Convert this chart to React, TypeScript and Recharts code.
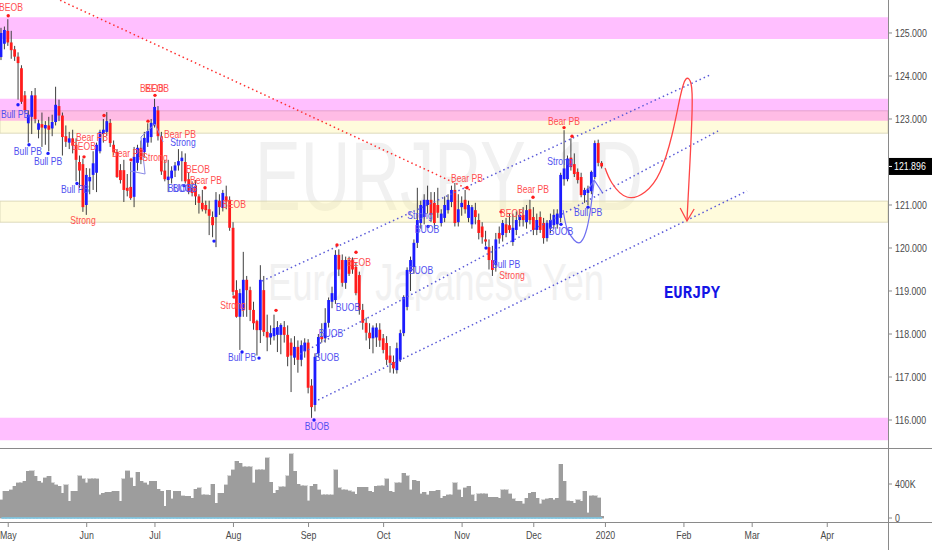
import React from 'react';
import { ComposedChart, Bar, Line, Scatter, XAxis, YAxis, ReferenceArea, ReferenceLine } from 'recharts';

// ---------- DATA (daily bars, index 0 = 29 Apr 2019 ... 176 = 31 Dec 2019) ----------
const opens = [
  124.44, 124.75, 125.05, 124.78, 124.62, 124.45, 124.18, 123.55, 122.90, 123.05,
  123.55, 122.75, 122.88, 122.78, 122.85, 122.78, 122.93, 123.30, 123.08, 122.60,
  122.45, 122.55, 122.40, 122.00, 121.95, 121.00, 121.55, 121.70, 121.75, 122.25,
  122.65, 122.70, 122.91, 122.40, 122.23, 121.81, 121.81, 121.40, 121.42, 121.19,
  121.98, 122.33, 122.23, 122.45, 122.58, 122.86, 123.20, 122.60, 121.80, 121.58,
  121.62, 121.80, 121.92, 122.02, 122.00, 121.60, 121.40, 121.45, 121.20, 121.05,
  121.00, 120.90, 120.72, 120.72, 121.10, 120.93, 121.20, 121.12, 120.47, 119.02,
  118.40, 118.56, 119.26, 119.02, 118.56, 118.30, 118.09, 119.02, 118.05, 117.92,
  117.95, 117.98, 117.98, 118.16, 117.98, 117.80, 117.45, 117.70, 117.40, 117.60,
  117.80, 116.80, 116.35, 117.55, 117.95, 117.90, 118.26, 118.75, 118.79, 119.84,
  119.72, 119.19, 119.72, 119.72, 119.56, 119.37, 118.56, 118.26, 118.03, 117.90,
  117.92, 118.10, 117.90, 117.79, 117.50, 117.35, 117.16, 117.40, 118.02, 118.63,
  119.45, 119.56, 120.12, 120.58, 120.72, 121.00, 121.12, 121.05, 121.00, 120.58,
  120.70, 120.88, 121.07, 121.35, 120.60, 120.95, 121.12, 120.70, 120.55, 120.88,
  120.65, 120.50, 120.20, 120.02, 119.72, 119.60, 120.35, 120.30, 120.55, 120.53,
  120.14, 120.42, 120.65, 120.77, 120.60, 120.90, 120.72, 120.42, 120.72, 120.58,
  120.23, 120.45, 120.53, 120.55, 120.70, 121.60, 121.60, 122.10, 121.95, 121.77,
  121.65, 121.23, 121.28, 121.32, 121.65, 122.44, 121.98,
];
const highs = [
  125.12, 125.15, 125.32, 125.05, 124.70, 124.55, 124.25, 123.65, 123.20, 123.65,
  123.72, 122.98, 123.15, 122.95, 123.05, 123.10, 123.75, 123.45, 123.15, 122.85,
  122.70, 122.75, 122.55, 122.15, 122.08, 121.86, 121.85, 122.25, 122.45, 122.75,
  123.00, 123.16, 123.00, 122.50, 122.30, 121.95, 122.05, 121.72, 122.00, 122.35,
  122.40, 122.50, 122.70, 122.90, 123.00, 123.47, 123.30, 122.70, 122.05, 122.05,
  121.90, 122.00, 122.30, 122.25, 122.20, 121.75, 121.55, 121.58, 121.25, 121.35,
  121.10, 121.10, 120.85, 121.30, 121.25, 121.35, 121.45, 121.20, 120.60, 119.25,
  119.05, 119.91, 119.35, 119.10, 118.75, 118.33, 119.60, 119.35, 118.45, 118.20,
  118.45, 118.30, 118.25, 118.30, 118.20, 117.90, 117.95, 117.85, 117.85, 117.90,
  117.88, 116.95, 117.55, 118.00, 118.25, 118.60, 118.85, 119.10, 119.95, 119.97,
  119.85, 119.80, 119.80, 119.78, 119.65, 119.45, 118.70, 118.38, 118.25, 118.20,
  118.25, 118.25, 118.00, 117.95, 117.72, 117.50, 117.80, 118.10, 118.90, 119.55,
  119.80, 120.20, 121.40, 121.10, 121.25, 121.45, 121.30, 121.30, 121.40, 120.90,
  121.20, 121.25, 121.45, 121.51, 121.25, 121.20, 121.35, 121.10, 121.00, 121.05,
  120.80, 120.60, 120.40, 120.20, 120.05, 120.35, 120.50, 120.65, 120.70, 120.80,
  120.80, 120.85, 120.90, 120.95, 121.00, 121.12, 120.95, 120.80, 120.85, 120.70,
  120.65, 120.80, 120.90, 120.90, 121.75, 122.74, 122.15, 122.55, 122.20, 121.85,
  121.75, 121.40, 121.45, 121.80, 122.50, 122.52, 122.02,
];
const lows = [
  124.37, 124.62, 124.70, 124.40, 124.35, 123.45, 123.35, 123.15, 122.45, 122.65,
  122.90, 122.55, 122.35, 122.40, 122.25, 122.60, 122.85, 122.95, 122.15, 122.35,
  122.30, 122.20, 121.55, 121.40, 120.84, 120.77, 121.25, 121.35, 121.30, 122.20,
  122.45, 122.60, 122.35, 122.15, 121.63, 121.50, 121.07, 121.20, 121.12, 120.95,
  121.80, 121.95, 122.10, 122.35, 122.45, 122.80, 122.50, 121.70, 121.55, 121.30,
  121.50, 121.65, 121.80, 121.55, 121.50, 121.25, 121.20, 121.00, 120.80, 120.85,
  120.80, 120.30, 120.25, 120.02, 120.77, 120.85, 120.90, 120.40, 118.90, 118.38,
  117.63, 118.40, 118.40, 118.30, 118.10, 117.50, 117.79, 117.95, 117.60, 117.75,
  117.85, 117.58, 117.53, 117.80, 117.25, 116.65, 117.28, 117.10, 117.25, 117.45,
  116.62, 116.05, 116.20, 117.45, 117.80, 117.80, 118.15, 118.60, 118.70, 119.35,
  119.10, 119.05, 119.35, 119.40, 118.90, 118.45, 118.10, 117.85, 117.65, 117.55,
  117.70, 117.70, 117.55, 117.28, 117.10, 117.08, 117.08, 117.35, 117.95, 118.55,
  119.00, 119.40, 120.00, 120.45, 120.55, 120.80, 120.60, 120.45, 120.70, 120.50,
  120.60, 120.80, 120.95, 120.50, 120.50, 120.75, 120.80, 120.60, 120.45, 120.55,
  120.20, 120.10, 120.05, 119.50, 119.35, 119.45, 120.10, 120.15, 120.25, 120.35,
  120.05, 120.30, 120.50, 120.50, 120.45, 120.55, 120.30, 120.30, 120.35, 120.10,
  120.15, 120.35, 120.45, 120.45, 120.60, 121.45, 121.55, 121.80, 121.65, 121.50,
  121.18, 121.05, 121.00, 121.25, 121.60, 121.90, 121.85,
];
const closes = [
  125.00, 125.07, 124.78, 124.60, 124.45, 124.30, 123.40, 123.20, 123.10, 123.55,
  123.00, 122.90, 122.80, 122.86, 122.75, 122.93, 123.33, 123.08, 122.58, 122.47,
  122.55, 122.38, 122.05, 121.80, 120.95, 121.70, 121.65, 121.97, 122.40, 122.70,
  122.75, 122.95, 122.44, 122.23, 121.65, 121.58, 121.35, 121.33, 121.16, 122.12,
  122.33, 122.05, 122.56, 122.72, 122.91, 123.28, 122.60, 121.78, 121.60, 121.66,
  121.80, 121.92, 122.02, 122.10, 121.55, 121.30, 121.28, 121.20, 121.05, 120.90,
  120.88, 120.75, 120.53, 121.12, 120.95, 121.28, 121.08, 120.47, 118.98, 118.40,
  118.95, 119.26, 119.02, 118.56, 118.25, 118.09, 119.26, 118.05, 117.92, 118.02,
  118.14, 118.16, 118.21, 117.98, 117.47, 117.50, 117.70, 117.40, 117.74, 117.80,
  116.75, 116.30, 117.47, 117.93, 117.88, 118.26, 118.79, 118.95, 119.84, 119.50,
  119.19, 119.72, 119.40, 119.50, 118.95, 118.56, 118.26, 118.03, 117.90, 118.15,
  118.15, 117.85, 117.63, 117.40, 117.33, 117.20, 117.67, 118.02, 118.86, 119.49,
  119.72, 120.12, 120.65, 121.00, 121.12, 121.12, 120.77, 120.58, 120.82, 120.80,
  121.00, 121.12, 121.35, 120.58, 120.90, 121.05, 120.90, 121.00, 120.95, 120.72,
  120.35, 120.25, 120.15, 119.72, 119.49, 120.20, 120.22, 120.58, 120.35, 120.42,
  120.47, 120.65, 120.77, 120.65, 120.88, 120.65, 120.42, 120.65, 120.42, 120.23,
  120.58, 120.65, 120.77, 120.80, 121.70, 121.85, 122.08, 121.88, 121.72, 121.58,
  121.23, 121.35, 121.38, 121.77, 122.44, 121.98, 121.896,
];
// volume in thousands
const volumes = [
  216, 314, 314, 333, 373, 412, 412, 431, 549, 557,
  490, 431, 412, 471, 490, 412, 392, 373, 294, 392,
  196, 314, 314, 498, 459, 412, 459, 459, 459, 275,
  294, 302, 302, 314, 314, 196, 459, 557, 471, 373,
  541, 431, 412, 392, 431, 431, 341, 314, 137, 325,
  224, 314, 314, 263, 255, 255, 235, 341, 353, 275,
  275, 267, 400, 176, 294, 294, 392, 498, 569, 667,
  647, 600, 600, 600, 412, 569, 569, 569, 706, 420,
  294, 325, 365, 365, 498, 757, 549, 400, 380, 380,
  204, 373, 400, 333, 275, 275, 275, 275, 569, 353,
  333, 333, 322, 306, 282, 361, 361, 361, 314, 302,
  373, 380, 380, 459, 314, 302, 412, 412, 529, 498,
  333, 443, 431, 286, 302, 275, 314, 314, 325, 235,
  255, 275, 275, 412, 333, 247, 353, 373, 275, 196,
  286, 286, 286, 247, 247, 247, 235, 333, 333, 286,
  224, 196, 196, 165, 235, 294, 302, 231, 165, 216,
  224, 231, 216, 231, 635, 431, 204, 196, 176, 216,
  196, 314, 59, 263, 263, 240, 20,
];

const monthTickIdx = [2, 25, 45, 68, 90, 112, 135, 156, 177, 200, 220, 242];
const monthTickLabels = ['May', 'Jun', 'Jul', 'Aug', 'Sep', 'Oct', 'Nov', 'Dec', '2020', 'Feb', 'Mar', 'Apr'];
const priceTicks = [116, 117, 118, 119, 120, 121, 122, 123, 124, 125];
const volumeTicks = [0, 400];

// zones [bottom, top]
const pinkZones = [[124.86, 125.365], [122.96, 123.47], [115.53, 116.05]];
const yellowZones = [[122.67, 123.19], [120.6, 121.09]];

// trend lines [[idx, price], [idx, price]]
const channelUpper = [[76.4, 119.233], [207.6, 124.023]];
const channelMiddle = [[87.5, 117.535], [210.0, 122.721]];
const channelLower = [[92.8, 116.465], [218.5, 121.326]];
const redTrend = [[17.2, 125.76], [137.3, 121.349]];

// hand drawings
const redCurveIdx = [176.9, 178.9, 183.3, 188.6, 193.0, 196.5, 198.9, 200.6, 202.1, 202.4, 201.8, 200.9];
const redCurvePrice = [121.86, 121.512, 121.186, 121.302, 121.767, 122.628, 123.512, 123.93, 123.814, 123.209, 122.047, 120.651];
const redArrowIdx = [198.9, 200.9, 203.0];
const redArrowPrice = [120.93, 120.628, 120.907];
const blueCurveIdx = [164.6, 165.7, 167.8, 169.8, 171.6, 172.8, 173.7];
const blueCurvePrice = [120.884, 120.465, 120.186, 120.14, 120.465, 121.0, 121.558];
const blueArrowIdx = [171.9, 173.7, 176.0];
const blueArrowPrice = [121.349, 121.581, 121.302];
const zigzagIdx = [37.7, 42.1, 40.9, 45.0, 47.4];
const zigzagPrice = [121.791, 121.721, 122.581, 122.884, 122.465];

// signal labels
const labelIdx = [2.8, 3.99, 7.79, 13.66, 21.57, 23.91, 26.55, 24.21, 37.1, 45.01, 44.13, 45.6, 52.34, 53.22, 57.61, 59.96, 52.34, 53.8, 68.16, 67.87, 70.51, 92.49, 95.41, 96.59, 101.57, 104.79, 122.67, 124.72, 122.96, 136.44, 149.63, 155.78, 147.87, 149.63, 163.98, 164.87, 163.7, 171.9];
const labelPrice = [125.581, 123.093, 122.233, 122.0, 121.349, 120.628, 122.558, 122.349, 122.209, 122.093, 123.698, 123.698, 122.628, 122.442, 121.814, 121.558, 121.372, 121.372, 121.023, 118.674, 117.442, 115.86, 117.465, 118.023, 118.605, 119.674, 120.767, 120.419, 119.488, 121.605, 120.791, 121.349, 119.605, 119.349, 120.395, 122.953, 122.023, 120.814];
const labelText = ['BEOB', 'Bull PB', 'Bull PB', 'Bull PB', 'Bull PB', 'Strong', 'Bear PB', 'BEOB', 'Bear PB', 'Strong', 'BEOB', 'BEOB', 'Bear PB', 'Strong', 'BEOB', 'Bear PB', 'BUOB', 'BUOB', 'BEOB', 'Strong', 'Bull PB', 'BUOB', 'BUOB', 'BUOB', 'BUOB', 'BEOB', 'Strong', 'BUOB', 'BUOB', 'Bear PB', 'BEOB', 'Bear PB', 'Bull PB', 'Strong', 'BUOB', 'Bear PB', 'Strong', 'Bull PB'];
const labelSide = ['r', 'b', 'b', 'b', 'b', 'r', 'r', 'r', 'r', 'r', 'r', 'r', 'r', 'b', 'r', 'r', 'b', 'b', 'r', 'r', 'b', 'b', 'b', 'b', 'b', 'r', 'b', 'b', 'b', 'r', 'r', 'r', 'b', 'r', 'b', 'r', 'b', 'b'];

const redDotIdx = [2.0, 24.21, 30.07, 37.98, 42.96, 45.0, 59.66, 68.16, 80.47, 98.34, 103.91, 136.44, 146.4, 155.78, 164.87, 167.21];
const redDotPrice = [125.4, 122.12, 123.08, 122.05, 122.95, 123.55, 121.4, 118.86, 118.55, 120.07, 119.9, 121.4, 120.84, 121.18, 122.8, 122.6];
const blueDotIdx = [4.86, 8.09, 13.66, 22.15, 53.51, 62.3, 70.51, 75.49, 91.61, 125.01, 142.01, 163.98, 171.9];
const blueDotPrice = [123.33, 122.4, 122.2, 121.5, 121.45, 120.16, 117.58, 117.44, 116.0, 120.5, 120.0, 120.55, 120.95];

// ---------- STYLE ----------
const FONT = '"Liberation Sans", Arial, sans-serif';
const BLUE = '#1c1cff';
const RED = '#ff1c1c';
const LABEL_RED = '#ff4f4f';
const LABEL_BLUE = '#5050f0';
const AXIS_GRAY = '#8a8a8a';
const TEXT_GRAY = '#4a4a4a';
const VOL_GRAY = '#9d9d9d';
const X_DOMAIN: [number, number] = [-0.41, 259.8];
const PRICE_DOMAIN: [number, number] = [115.349, 125.767];
const VOL_DOMAIN: [number, number] = [-47, 823.5];
const NO_MARGIN = { top: 0, right: 0, bottom: 0, left: 0 };

const rows = opens.map((o, i) => ({ i, o, h: highs[i], l: lows[i], c: closes[i], v: volumes[i] }));
const lastClose = closes[closes.length - 1];

const pts = (xs: number[], ys: number[]) => xs.map((x, k) => ({ i: x, p: ys[k] }));
const labelRows = labelIdx.map((x, k) => ({ i: x, p: labelPrice[k], t: labelText[k], s: labelSide[k] }));
const redDots = pts(redDotIdx, redDotPrice);
const blueDots = pts(blueDotIdx, blueDotPrice);

function Candle(props: any) {
  const { x, y, width, height, payload } = props;
  if (!payload || payload.h == null || x == null) return null;
  const top = Math.min(y, y + height);
  const span = Math.abs(height);
  const { o, h, l, c } = payload;
  const k = h > l ? span / (h - l) : 0;
  const bTop = top + (h - Math.max(o, c)) * k;
  const bBot = top + (h - Math.min(o, c)) * k;
  const cx = x + width / 2;
  return (
    <g>
      <line x1={cx} x2={cx} y1={top} y2={top + span} stroke="#3f3f3f" strokeWidth={1} />
      <rect x={cx - 1.4} y={bTop} width={2.8} height={Math.max(1, bBot - bTop)} fill={c >= o ? BLUE : RED} />
    </g>
  );
}

function VolumeBar(props: any) {
  const { x, y, width, height } = props;
  if (x == null || !height) return null;
  const cx = x + width / 2;
  const top = Math.min(y, y + height);
  return (
    <rect
      x={cx - 2.1}
      y={top}
      width={4.2}
      height={Math.abs(height)}
      fill={VOL_GRAY}
      stroke={VOL_GRAY}
      strokeWidth={0.4}
      shapeRendering="crispEdges"
    />
  );
}

function SignalLabel(props: any) {
  const { cx, cy, payload } = props;
  if (cx == null) return null;
  return (
    <text
      transform={`translate(${cx},${cy + 3.5}) scale(0.82,1)`}
      textAnchor="middle"
      fontSize={10.5}
      fontFamily={FONT}
      fill={payload.s === 'r' ? LABEL_RED : LABEL_BLUE}
    >
      {payload.t}
    </text>
  );
}

const dotShape = (color: string) => (props: any) =>
  props.cx == null ? null : <circle cx={props.cx} cy={props.cy} r={1.7} fill={color} />;

function PriceTick(props: any) {
  const { x, y, payload } = props;
  return (
    <text transform={`translate(${x + 1},${y + 4}) scale(0.8,1)`} fontSize={11} fontFamily={FONT} fill={TEXT_GRAY}>
      {Number(payload.value).toFixed(3)}
    </text>
  );
}

function VolumeTick(props: any) {
  const { x, y, payload } = props;
  const v = payload.value;
  return (
    <text transform={`translate(${x + 1},${y + 4}) scale(0.8,1)`} fontSize={11} fontFamily={FONT} fill={TEXT_GRAY}>
      {v === 0 ? '0' : `${v}K`}
    </text>
  );
}

function TimeTick(props: any) {
  const { x, y, payload } = props;
  const k = monthTickIdx.indexOf(payload.value);
  return (
    <text transform={`translate(${x},${y + 10}) scale(0.8,1)`} textAnchor="middle" fontSize={11} fontFamily={FONT} fill={TEXT_GRAY}>
      {k >= 0 ? monthTickLabels[k] : ''}
    </text>
  );
}

function LastPriceLabel(props: any) {
  const vb = props.viewBox || {};
  const x = (vb.x || 0) + (vb.width || 0);
  const y = vb.y || 0;
  return (
    <g>
      <rect x={x} y={y - 8.5} width={44} height={17} fill="#000" />
      <line x1={x} x2={x + 4} y1={y} y2={y} stroke="#fff" />
      <text transform={`translate(${x + 6},${y + 4}) scale(0.8,1)`} fontSize={11} fontFamily={FONT} fill="#fff">
        {lastClose.toFixed(3)}
      </text>
    </g>
  );
}

const seg = (s: number[][]) => [{ x: s[0][0], y: s[0][1] }, { x: s[1][0], y: s[1][1] }];
const lineProps = { dot: false, activeDot: false, isAnimationActive: false, legendType: 'none' as const };

export default function App() {
  return (
    <div style={{ position: 'fixed', left: 0, top: 0, width: 932, height: 550, background: '#fff', overflow: 'hidden' }}>
      {/* watermark */}
      <svg width={932} height={550} style={{ position: 'absolute', left: 0, top: 0 }}>
        <text x={255} y={210} fontSize={99} fill="#f1f1f1" fontFamily={FONT} textLength={388} lengthAdjust="spacingAndGlyphs">
          EURJPY, 1D
        </text>
        <text x={268} y={300} fontSize={51} fill="#f1f1f1" fontFamily={FONT} textLength={336} lengthAdjust="spacingAndGlyphs">
          Euro / Japanese Yen
        </text>
      </svg>

      {/* price pane: zones, trend lines, candles */}
      <div style={{ position: 'absolute', left: 0, top: 0 }}>
        <ComposedChart width={932} height={448} data={rows} margin={NO_MARGIN}>
          <XAxis type="number" dataKey="i" domain={X_DOMAIN} allowDataOverflow hide />
          <YAxis
            type="number"
            orientation="right"
            width={44}
            domain={PRICE_DOMAIN}
            allowDataOverflow
            ticks={priceTicks}
            interval={0}
            tick={<PriceTick />}
            tickSize={4}
            tickLine={{ stroke: AXIS_GRAY }}
            axisLine={false}
          />
          {yellowZones.map((z, k) => (
            <ReferenceArea key={`y${k}`} y1={z[0]} y2={z[1]} fill="#fff38a" fillOpacity={0.3} stroke="#d9d6b8" strokeOpacity={0.9} ifOverflow="hidden" />
          ))}
          {pinkZones.map((z, k) => (
            <ReferenceArea key={`p${k}`} y1={z[0]} y2={z[1]} fill="#ff00ff" fillOpacity={0.25} stroke="none" ifOverflow="hidden" />
          ))}
          <ReferenceLine segment={seg(redTrend)} stroke="#ff3030" strokeWidth={1.5} strokeDasharray="1.5 3" />
          <ReferenceLine segment={seg(channelUpper)} stroke="#5c5cd8" strokeWidth={1.5} strokeDasharray="1.5 3" />
          <ReferenceLine segment={seg(channelMiddle)} stroke="#5c5cd8" strokeWidth={1.5} strokeDasharray="1.5 3" />
          <ReferenceLine segment={seg(channelLower)} stroke="#5c5cd8" strokeWidth={1.5} strokeDasharray="1.5 3" />
          <Bar dataKey={(d: any) => [d.l, d.h]} barSize={2.6} shape={<Candle />} isAnimationActive={false} />
        </ComposedChart>
      </div>

      {/* price pane overlay: drawings, signal dots and labels */}
      <div style={{ position: 'absolute', left: 0, top: 0 }}>
        <ComposedChart width={932} height={448} margin={{ top: 0, right: 44, bottom: 0, left: 0 }}>
          <XAxis type="number" dataKey="i" domain={X_DOMAIN} allowDataOverflow hide />
          <YAxis type="number" domain={PRICE_DOMAIN} allowDataOverflow hide />
          <Line data={pts(zigzagIdx, zigzagPrice)} dataKey="p" type="linear" stroke="#8a8ae6" strokeWidth={1} {...lineProps} />
          <Line data={pts(blueCurveIdx, blueCurvePrice)} dataKey="p" type="natural" stroke="#6f6ff0" strokeWidth={1.2} {...lineProps} />
          <Line data={pts(blueArrowIdx, blueArrowPrice)} dataKey="p" type="linear" stroke="#6f6ff0" strokeWidth={1.2} {...lineProps} />
          <Line data={pts(redCurveIdx, redCurvePrice)} dataKey="p" type="natural" stroke="#ff4545" strokeWidth={1.3} {...lineProps} />
          <Line data={pts(redArrowIdx, redArrowPrice)} dataKey="p" type="linear" stroke="#ff4545" strokeWidth={1.3} {...lineProps} />
          <Scatter data={redDots} dataKey="p" shape={dotShape(RED)} isAnimationActive={false} />
          <Scatter data={blueDots} dataKey="p" shape={dotShape(BLUE)} isAnimationActive={false} />
          <Scatter data={labelRows} dataKey="p" shape={<SignalLabel />} isAnimationActive={false} />
          <ReferenceLine y={lastClose} stroke="none" label={<LastPriceLabel />} />
        </ComposedChart>
      </div>

      {/* volume pane */}
      <div style={{ position: 'absolute', left: 0, top: 448 }}>
        <ComposedChart width={932} height={102} data={rows} margin={NO_MARGIN}>
          <XAxis
            type="number"
            dataKey="i"
            domain={X_DOMAIN}
            allowDataOverflow
            ticks={monthTickIdx}
            interval={0}
            height={28}
            tick={<TimeTick />}
            tickSize={5}
            tickLine={{ stroke: AXIS_GRAY }}
            axisLine={false}
          />
          <YAxis
            type="number"
            orientation="right"
            width={44}
            domain={VOL_DOMAIN}
            allowDataOverflow
            ticks={volumeTicks}
            interval={0}
            tick={<VolumeTick />}
            tickSize={4}
            tickLine={{ stroke: AXIS_GRAY }}
            axisLine={false}
          />
          <Bar dataKey="v" barSize={3} shape={<VolumeBar />} isAnimationActive={false} />
          <ReferenceLine segment={[{ x: 0, y: 0 }, { x: 176, y: 0 }]} stroke="#7ccbea" strokeWidth={1.5} />
        </ComposedChart>
      </div>

      {/* pane separators and price scale border */}
      <div style={{ position: 'absolute', left: 888, top: 0, width: 1, height: 550, background: AXIS_GRAY }} />
      <div style={{ position: 'absolute', left: 0, top: 448, width: 932, height: 1, background: AXIS_GRAY }} />
      <div style={{ position: 'absolute', left: 0, top: 522, width: 932, height: 1, background: AXIS_GRAY }} />

      <svg width={932} height={550} style={{ position: 'absolute', left: 0, top: 0, pointerEvents: 'none' }}>
        <text x={664} y={298} fontSize={19} fontWeight="bold" fill="#1414e6" fontFamily='"Liberation Mono", "DejaVu Sans Mono", monospace' textLength={56} lengthAdjust="spacingAndGlyphs">
          EURJPY
        </text>
      </svg>
    </div>
  );
}
